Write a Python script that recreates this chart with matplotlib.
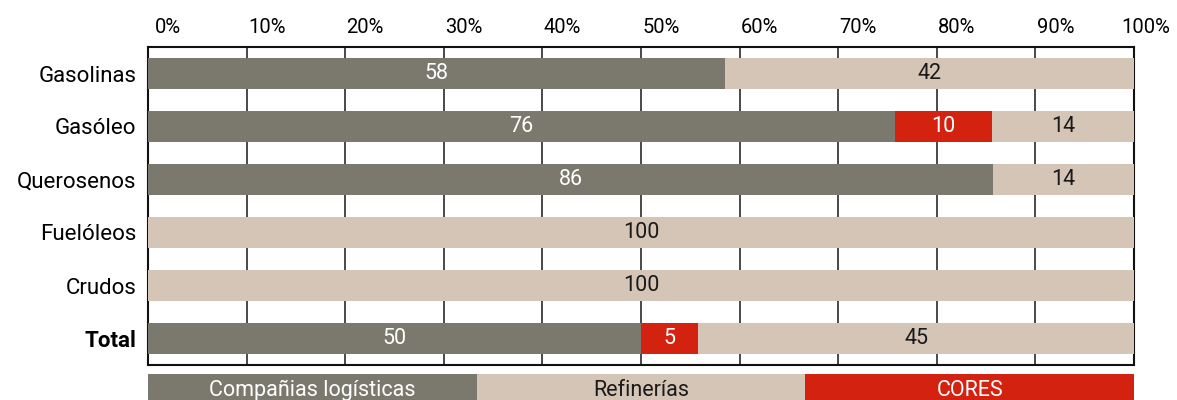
import matplotlib
matplotlib.use("Agg")
import matplotlib.pyplot as plt
import matplotlib.transforms as mtransforms
import numpy as np
from matplotlib.ticker import MultipleLocator, FuncFormatter

categories = ["Gasolinas", "Gasóleo", "Querosenos", "Fuelóleos", "Crudos", "Total"]
logisticas = [58.5, 75.8, 85.7, 0, 0, 50.0]
cores = [0, 9.8, 0, 0, 0, 5.8]
refinerias = [41.5, 14.4, 14.3, 100, 100, 44.2]
label_logisticas = ["58", "76", "86", "", "", "50"]
label_cores = ["", "10", "", "", "", "5"]
label_refinerias = ["42", "14", "14", "100", "100", "45"]
series_names = ["Compañias logísticas", "Refinerías", "CORES"]

C_GREY = "#7b796d"
C_BEIGE = "#d5c5b6"
C_RED = "#d42211"
FONT = ["Roboto", "DejaVu Sans"]
plt.rcParams["font.family"] = FONT

fig = plt.figure(figsize=(11.77, 4.0), dpi=100)
ax = fig.add_axes([148/1177, 1-365/400, (1134-148)/1177, (365-47)/400])

y = np.arange(len(categories))
h = 0.57
log = np.array(logisticas)
cor = np.array(cores)
ref = np.array(refinerias)

b1 = ax.barh(y, log, height=h, color=C_GREY, zorder=3)
b2 = ax.barh(y, cor, left=log, height=h, color=C_RED, zorder=3)
b3 = ax.barh(y, ref, left=log + cor, height=h, color=C_BEIGE, zorder=3)

down = mtransforms.ScaledTranslation(0, -2.5/100, fig.dpi_scale_trans)
for bars, labels, col in [(b1, label_logisticas, "white"), (b2, label_cores, "white"), (b3, label_refinerias, "#1a1a1a")]:
    texts = ax.bar_label(bars, labels=labels, label_type="center", color=col, fontsize=15.5, zorder=4)
    for t in texts:
        t.set_transform(t.get_transform() + down)

ax.set_xlim(0, 100)
ax.set_ylim(len(categories) - 0.5, -0.5)
ax.set_yticks(y)
ax.set_yticklabels(categories, fontsize=16)
for t in ax.get_yticklabels():
    if t.get_text() == "Total":
        t.set_fontweight("bold")
ax.xaxis.set_major_locator(MultipleLocator(10))
ax.xaxis.set_major_formatter(FuncFormatter(lambda v, p: f"{v:.0f}%"))
ax.xaxis.tick_top()
ax.tick_params(axis="x", length=0, pad=7, labelsize=14.5)
ax.tick_params(axis="y", length=0, pad=8.5)
ax.set_axisbelow(True)
ax.grid(axis="x", color="#2a2a2a", linewidth=1.2, zorder=0)
for s in ["top", "bottom", "left", "right"]:
    ax.spines[s].set_color("#111111")
    ax.spines[s].set_linewidth(1.5)
    ax.spines[s].set_zorder(2)

fig.canvas.draw()
for t in ax.get_xticklabels():
    dx = 12 if t.get_text() == "100%" else 20
    t.set_transform(t.get_transform() + mtransforms.ScaledTranslation(dx/100, 0, fig.dpi_scale_trans))

# legend strip
lax = fig.add_axes([148/1177, (400-404)/400, (1134-148)/1177, 30/400])
lax.set_xlim(0, 3)
lax.set_ylim(0, 1)
lax.axis("off")
leg_colors = [C_GREY, C_BEIGE, C_RED]
leg_text = ["white", "#1a1a1a", "white"]
lax.bar(np.arange(3) + 0.5, [1, 1, 1], width=1.0, color=leg_colors)
for i, name in enumerate(series_names):
    lax.text(i + 0.5, 0.45, name, ha="center", va="center", color=leg_text[i], fontsize=15.5)

fig.savefig("out.png", dpi=100)
